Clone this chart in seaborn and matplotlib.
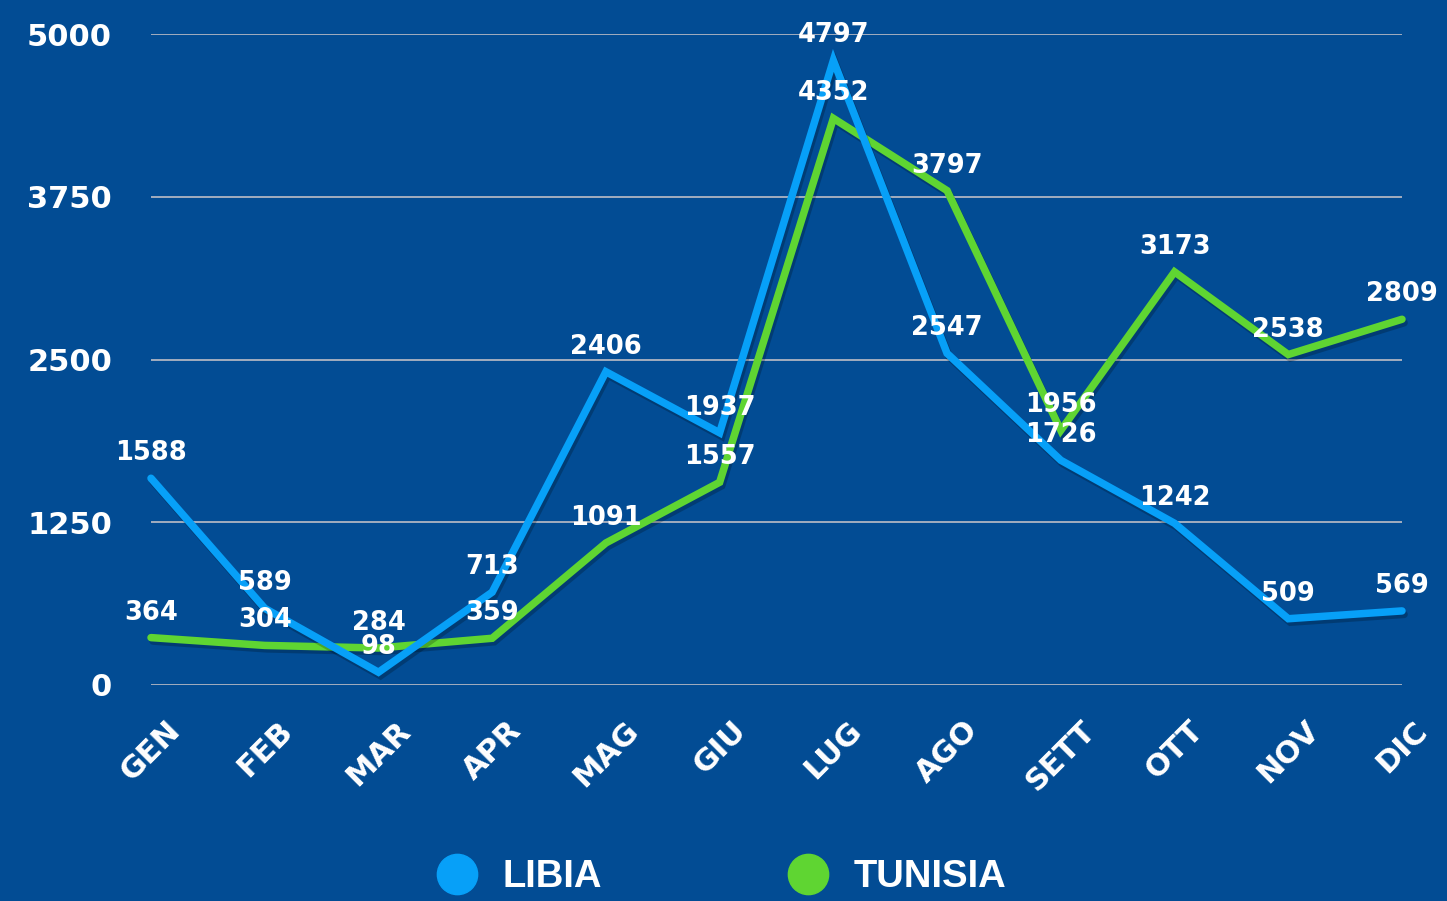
import matplotlib
matplotlib.use("Agg")
import matplotlib.pyplot as plt
import matplotlib.patheffects as pe
from matplotlib.lines import Line2D
import seaborn as sns
import pandas as pd

months = ["GEN", "FEB", "MAR", "APR", "MAG", "GIU", "LUG", "AGO", "SETT", "OTT", "NOV", "DIC"]
libia = [1588, 589, 98, 713, 2406, 1937, 4797, 2547, 1726, 1242, 509, 569]
tunisia = [364, 304, 284, 359, 1091, 1557, 4352, 3797, 1956, 3173, 2538, 2809]
series_names = ["LIBIA", "TUNISIA"]
y_ticks = [0, 1250, 2500, 3750, 5000]

BG = "#024C94"
C_LIBIA = "#07A0F8"
C_TUN = "#5FD532"
GRID = "#A3ADBF"

sns.set_theme(style="white")
plt.rcParams["font.family"] = ["DejaVu Sans"]

df = pd.DataFrame({
    "idx": list(range(len(months))) * 2,
    "value": libia + tunisia,
    "serie": [series_names[0]] * len(months) + [series_names[1]] * len(months),
})

fig = plt.figure(figsize=(14.47, 9.01), dpi=100, facecolor=BG)
ax = fig.add_axes([151 / 1447, 1 - 685 / 901, (1402 - 151) / 1447, (685 - 34) / 901])
ax.set_facecolor(BG)

palette = {series_names[0]: C_LIBIA, series_names[1]: C_TUN}
sns.lineplot(data=df, x="idx", y="value", hue="serie", hue_order=[series_names[1], series_names[0]],
             palette=palette, linewidth=5.4, ax=ax, legend=False)
for ln in ax.get_lines():
    ln.set_clip_on(False)
    ln.set_solid_joinstyle("miter")
    ln.set_path_effects([pe.SimpleLineShadow(offset=(1.5, -2.5), shadow_color="black", alpha=0.22),
                         pe.Normal()])
# Libia on top
lines = ax.get_lines()
if len(lines) >= 2:
    lines[0].set_zorder(3)
    lines[1].set_zorder(4)

for vals in (tunisia, libia):
    for i, v in enumerate(vals):
        ax.annotate(str(v), xy=(i, v), xytext=(0, 18), textcoords="offset points",
                    ha="center", va="center", color="white", fontsize=18.5,
                    fontweight="bold", zorder=6, annotation_clip=False)

ax.set_xlim(0, len(months) - 1)
ax.set_ylim(0, 5000)
ax.set_yticks(y_ticks)
ax.set_yticklabels([str(t) for t in y_ticks], color="white", fontsize=22, fontweight="bold")
ax.set_xticks(range(len(months)))
ax.set_xticklabels(months, rotation=45, ha="center", color="white", fontsize=22, fontweight="bold")
ax.tick_params(axis="y", length=0, pad=28)
ax.tick_params(axis="x", length=0, pad=22)
ax.grid(axis="y", color=GRID, linewidth=1.4)
ax.grid(axis="x", visible=False)
ax.set_axisbelow(True)
for s in ax.spines.values():
    s.set_visible(False)
ax.set_xlabel("")
ax.set_ylabel("")

handles = [Line2D([0], [0], marker="o", linestyle="none", markersize=29,
                  markerfacecolor=c, markeredgecolor=c) for c in (C_LIBIA, C_TUN)]
leg = fig.legend(handles, series_names, loc="center", bbox_to_anchor=(0.499, 24 / 901),
                 ncol=2, frameon=False, handlelength=1.0, handletextpad=0.7,
                 columnspacing=4.9, prop={"family": "Liberation Sans", "weight": "bold", "size": 27.5})
for t in leg.get_texts():
    t.set_color("white")

fig.savefig("out.png", dpi=100, facecolor=BG)
